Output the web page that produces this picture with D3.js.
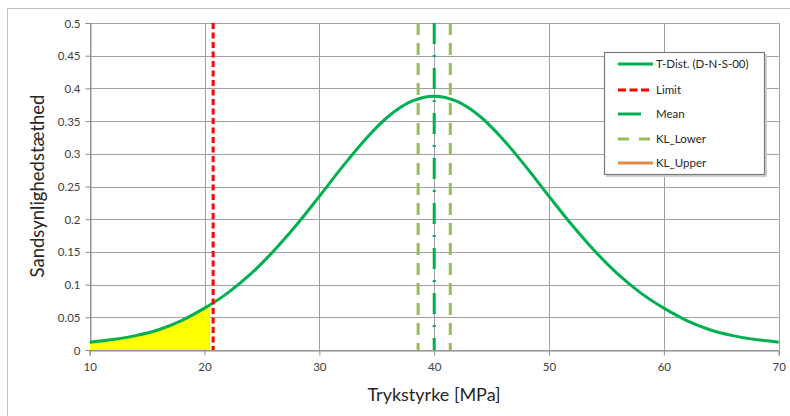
<!DOCTYPE html>
<html>
<head>
<meta charset="utf-8">
<script src="https://cdn.jsdelivr.net/npm/d3@7"></script>
<style>
  html, body { margin: 0; padding: 0; background: #fff; }
  svg { display: block; font-family: Lato, "Open Sans", sans-serif; }
</style>
</head>
<body>
<svg id="chart" width="790" height="416"></svg>
<script>
// ---- data ----
const curveX = [10,12,14,16,18,20,22,24,26,28,30,32,34,36,38,40,42,44,46,48,50,52,54,56,58,60,62,64,66,68,70];
const curveY = [0.012,0.016,0.022,0.031,0.045,0.064,0.087,0.116,0.151,0.191,0.235,0.280,0.322,0.357,0.380,0.388,
                0.380,0.357,0.322,0.280,0.235,0.191,0.151,0.116,0.087,0.064,0.045,0.031,0.022,0.016,0.012];
const fillRange = [10, 20.5];      // shaded tail (yellow)
const limitX = 20.75;              // Limit
const meanX = 40;                  // Mean
const klLowerX = [38.6, 41.4];     // KL_Lower lines
const xTicks = [10,20,30,40,50,60,70];
const yTicks = [0,0.05,0.1,0.15,0.2,0.25,0.3,0.35,0.4,0.45,0.5];
const yTickLabels = ["0","0.05","0.1","0.15","0.2","0.25","0.3","0.35","0.4","0.45","0.5"];
const legendNames = ["T-Dist. (D-N-S-00)","Limit","Mean","KL_Lower","KL_Upper"];

const svg = d3.select("#chart");
const x = d3.scaleLinear().domain([10,70]).range([89.7,778.7]);
const y = d3.scaleLinear().domain([0,0.5]).range([350,23]);

// outer chart frame
svg.append("rect").attr("x",7.5).attr("y",8.5).attr("width",800).attr("height",420)
   .attr("fill","none").attr("stroke","#bfbfbf").attr("stroke-width",1);

// gridlines
const grid = svg.append("g").attr("stroke","#a0a0a0").attr("stroke-width",1);
grid.selectAll("line.h").data(yTicks).join("line").attr("class","h")
  .attr("x1",x(10)).attr("x2",x(70)).attr("y1",d=>Math.round(y(d))+0.5).attr("y2",d=>Math.round(y(d))+0.5);
grid.selectAll("line.v").data(xTicks).join("line").attr("class","v")
  .attr("y1",y(0)).attr("y2",y(0.5)).attr("x1",d=>Math.round(x(d))+0.5).attr("x2",d=>Math.round(x(d))+0.5);

// axes
const yAxis = d3.axisLeft(y).tickValues(yTicks).tickSize(5).tickPadding(5)
  .tickFormat((d,i)=>yTickLabels[i]);
const gy = svg.append("g").attr("transform",`translate(${Math.round(x(10))+0.5},0)`).call(yAxis);
const xAxis = d3.axisBottom(x).tickValues(xTicks).tickSize(5).tickPadding(7).tickFormat(d3.format("d"));
const gx = svg.append("g").attr("transform",`translate(0,${Math.round(y(0))+0.5})`).call(xAxis);
[gx,gy].forEach(g=>{
  g.select(".domain").attr("stroke","#8c8c8c");
  g.selectAll(".tick line").attr("stroke","#8c8c8c");
  g.selectAll(".tick text").attr("fill","#404040").style("font-size","11.5px").style("font-family","Lato, sans-serif");
});
gy.selectAll(".tick text").attr("dy","0.35em");

const pts = curveX.map((d,i)=>[d,curveY[i]]);

// yellow tail area (clipped to fill range)
svg.append("clipPath").attr("id","tailclip").append("rect")
  .attr("x",x(fillRange[0])).attr("y",0).attr("width",x(fillRange[1])-x(fillRange[0])).attr("height",416);
svg.append("path").datum(pts)
  .attr("clip-path","url(#tailclip)")
  .attr("fill","#ffff00")
  .attr("d",d3.area().x(d=>x(d[0])).y0(y(0)).y1(d=>y(d[1])).curve(d3.curveCatmullRom.alpha(0.5)));

// KL lines
svg.selectAll("line.kl").data(klLowerX).join("line").attr("class","kl")
  .attr("x1",d=>x(d)).attr("x2",d=>x(d)).attr("y1",y(0.5)).attr("y2",y(0))
  .attr("stroke","#9bbb59").attr("stroke-width",3).attr("stroke-dasharray","12,8");

// curve
svg.append("path").datum(pts)
  .attr("fill","none").attr("stroke","#00b050").attr("stroke-width",3)
  .attr("d",d3.line().x(d=>x(d[0])).y(d=>y(d[1])).curve(d3.curveCatmullRom.alpha(0.5)));

// mean line
svg.append("line").attr("x1",x(meanX)).attr("x2",x(meanX)).attr("y1",y(0.5)).attr("y2",y(0))
  .attr("stroke","#00b050").attr("stroke-width",3).attr("stroke-dasharray","21,11,2,11");

// limit line
svg.append("line").attr("x1",x(limitX)).attr("x2",x(limitX)).attr("y1",y(0.5)).attr("y2",y(0))
  .attr("stroke","#ff0000").attr("stroke-width",3).attr("stroke-dasharray","6,3.5");

// legend
const lg = svg.append("g");
lg.append("rect").attr("x",606).attr("y",54).attr("width",161).attr("height",123).attr("fill","#d0d0d0");
lg.append("rect").attr("x",604.5).attr("y",52.5).attr("width",160).attr("height",122)
  .attr("fill","#fff").attr("stroke","#7a7a7a").attr("stroke-width",1.2);
const rowsY = [64,90,114,139,163];
const styles = [
  {c:"#00b050", dash:null, len:35},
  {c:"#ff0000", dash:"8,3.5", len:33},
  {c:"#00b050", dash:null, len:23},
  {c:"#9bbb59", dash:"11,10", len:33},
  {c:"#e3894a", dash:null, len:35}
];
legendNames.forEach((name,i)=>{
  const s = styles[i];
  lg.append("line").attr("x1",618).attr("x2",618+s.len).attr("y1",rowsY[i]).attr("y2",rowsY[i])
    .attr("stroke",s.c).attr("stroke-width",3).attr("stroke-dasharray",s.dash);
  lg.append("text").attr("x",656).attr("y",rowsY[i]).attr("dy","0.35em")
    .attr("fill","#262626").style("font-size","11.5px").text(name);
});

// axis titles
svg.append("text").attr("x",434).attr("y",401).attr("text-anchor","middle")
  .attr("fill","#262626").style("font-size","18px").text("Trykstyrke [MPa]");
svg.append("text").attr("transform","translate(44,186) rotate(-90)").attr("text-anchor","middle")
  .attr("fill","#262626").style("font-size","18.5px").text("Sandsynlighedstæthed");
</script>
</body>
</html>
